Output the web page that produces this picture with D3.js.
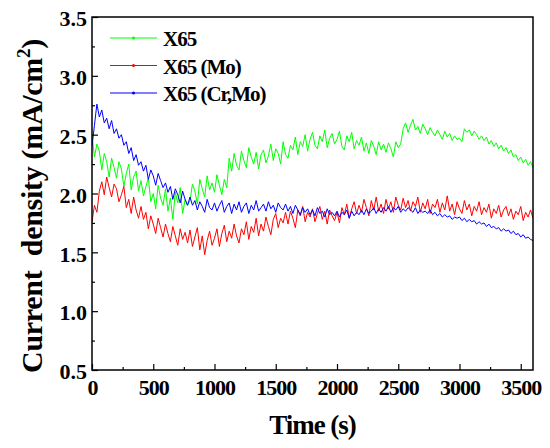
<!DOCTYPE html>
<html lang="en">
<head>
<meta charset="UTF-8">
<title>Current density</title>
<script src="https://cdn.jsdelivr.net/npm/d3@7"></script>
<style>
    body { margin: 0; background: #fff; }
    svg text { font-family: "Liberation Serif", "Times New Roman", serif; font-weight: bold; fill: #000; }
    .axis path { display: none; }
    .axis line { stroke: #000; stroke-width: 1.2; }
    .axis text { font-size: 22px; }
    .xaxis text { letter-spacing: -1px; }
</style>
</head>
<body>
<script>
// sampling times (s)
var times = [
    0, 20, 40, 60, 80, 100, 120, 140, 160, 180,
    200, 220, 240, 260, 280, 300, 320, 340, 360, 380,
    400, 420, 440, 460, 480, 500, 520, 540, 560, 580,
    600, 620, 640, 660, 680, 700, 720, 740, 760, 780,
    800, 820, 840, 860, 880, 900, 920, 940, 960, 980,
    1000, 1020, 1040, 1060, 1080, 1100, 1120, 1140, 1160, 1180,
    1200, 1220, 1240, 1260, 1280, 1300, 1320, 1340, 1360, 1380,
    1400, 1420, 1440, 1460, 1480, 1500, 1520, 1540, 1560, 1580,
    1600, 1620, 1640, 1660, 1680, 1700, 1720, 1740, 1760, 1780,
    1800, 1820, 1840, 1860, 1880, 1900, 1920, 1940, 1960, 1980,
    2000, 2020, 2040, 2060, 2080, 2100, 2120, 2140, 2160, 2180,
    2200, 2220, 2240, 2260, 2280, 2300, 2320, 2340, 2360, 2380,
    2400, 2420, 2440, 2460, 2480, 2500, 2520, 2540, 2560, 2580,
    2600, 2620, 2640, 2660, 2680, 2700, 2720, 2740, 2760, 2780,
    2800, 2820, 2840, 2860, 2880, 2900, 2920, 2940, 2960, 2980,
    3000, 3020, 3040, 3060, 3080, 3100, 3120, 3140, 3160, 3180,
    3200, 3220, 3240, 3260, 3280, 3300, 3320, 3340, 3360, 3380,
    3400, 3420, 3440, 3460, 3480, 3500, 3520, 3540, 3560, 3580,
    3600
]

// X65
var x65 = [
    2.50, 2.31, 2.42, 2.36, 2.20, 2.34, 2.27, 2.14, 2.30, 2.22,
    2.13, 2.27, 2.21, 2.06, 2.17, 2.25, 2.03, 2.14, 2.19, 2.02,
    2.11, 1.98, 2.06, 2.13, 1.93, 2.00, 1.87, 2.07, 1.96, 1.90,
    2.04, 1.85, 1.96, 1.78, 2.01, 1.92, 2.05, 1.83, 1.95, 1.90,
    1.94, 2.08, 2.02, 1.91, 2.12, 2.04, 1.97, 2.15, 2.03, 2.09,
    2.01, 2.16, 2.07, 1.99, 2.12, 2.05, 2.30, 2.19, 2.34, 2.24,
    2.20, 2.36, 2.28, 2.22, 2.39, 2.31, 2.25, 2.35, 2.21, 2.33,
    2.37, 2.26, 2.32, 2.42, 2.28, 2.38, 2.34, 2.25, 2.44, 2.33,
    2.30, 2.41, 2.37, 2.48, 2.33, 2.44, 2.40, 2.50, 2.36, 2.46,
    2.52, 2.41, 2.38, 2.49, 2.44, 2.54, 2.39, 2.47, 2.51, 2.42,
    2.46, 2.53, 2.40, 2.37, 2.49, 2.44, 2.52, 2.38, 2.45, 2.41,
    2.48, 2.36, 2.43, 2.34, 2.45, 2.40, 2.33, 2.44, 2.37, 2.42,
    2.35, 2.43, 2.38, 2.31, 2.44, 2.39, 2.42, 2.55, 2.60, 2.52,
    2.58, 2.63, 2.54, 2.57, 2.51, 2.59, 2.55, 2.50, 2.56, 2.52,
    2.49, 2.54, 2.50, 2.46, 2.53, 2.48, 2.51, 2.45, 2.49, 2.46,
    2.47, 2.44, 2.55, 2.52, 2.54, 2.49, 2.53, 2.50, 2.46, 2.49,
    2.45, 2.48, 2.42, 2.45, 2.40, 2.43, 2.38, 2.41, 2.36, 2.39,
    2.34, 2.37, 2.31, 2.33, 2.28, 2.31, 2.26, 2.29, 2.24, 2.27,
    2.22
]

// X65 (Mo)
var x65Mo = [
    1.76, 1.90, 1.84, 2.02, 2.10, 1.99, 2.14, 2.05, 1.97, 2.08,
    2.04, 1.93, 1.99, 2.06, 1.88, 1.95, 1.83, 1.97, 1.86, 1.79,
    1.89, 1.78, 1.84, 1.70, 1.81, 1.74, 1.66, 1.79, 1.71, 1.63,
    1.74, 1.66, 1.59, 1.72, 1.64, 1.56, 1.70, 1.61, 1.67, 1.58,
    1.69, 1.55, 1.63, 1.71, 1.52, 1.64, 1.48, 1.60, 1.68, 1.56,
    1.62, 1.70, 1.55, 1.66, 1.73, 1.59, 1.68, 1.62, 1.74, 1.64,
    1.58, 1.70, 1.65, 1.76, 1.61, 1.72, 1.67, 1.79, 1.64, 1.74,
    1.68, 1.80, 1.72, 1.65, 1.78, 1.83, 1.71, 1.79, 1.75, 1.84,
    1.74, 1.85, 1.79, 1.71, 1.86, 1.81, 1.89, 1.76, 1.84, 1.80,
    1.87, 1.76, 1.83, 1.89, 1.78, 1.85, 1.74, 1.86, 1.81, 1.77,
    1.84, 1.75, 1.88, 1.82, 1.91, 1.79, 1.87, 1.93, 1.83, 1.90,
    1.84, 1.95, 1.88, 1.81, 1.94, 1.86, 1.97, 1.85, 1.91, 1.83,
    1.95, 1.87, 1.93, 1.84, 1.97, 1.90, 1.86, 1.96, 1.88, 1.94,
    1.85, 1.93, 1.89, 1.97, 1.84, 1.92, 1.87, 1.95, 1.83, 1.91,
    1.88, 1.95, 1.84, 1.92, 1.86, 1.98, 1.85, 1.91, 1.82, 1.93,
    1.87, 1.83, 1.94, 1.86, 1.91, 1.81, 1.89, 1.85, 1.93, 1.82,
    1.88, 1.84, 1.91, 1.79, 1.87, 1.83, 1.90, 1.80, 1.86, 1.89,
    1.81, 1.87, 1.78, 1.85, 1.82, 1.89, 1.77, 1.84, 1.80, 1.86,
    1.79
]

// X65 (Cr,Mo)
var x65CrMo = [
    2.40, 2.58, 2.76, 2.65, 2.71, 2.60, 2.64, 2.55, 2.62, 2.51,
    2.55, 2.47, 2.50, 2.41, 2.44, 2.34, 2.39, 2.28, 2.33, 2.24,
    2.27, 2.19, 2.24, 2.12, 2.20, 2.15, 2.07, 2.17, 2.11, 2.05,
    2.09, 2.01, 2.06, 1.95, 2.04, 1.99, 1.92, 2.02, 1.95, 1.90,
    1.97, 1.90, 1.94, 1.86, 1.93, 1.89, 1.84, 1.95, 1.88, 1.86,
    1.92, 1.85, 1.90, 1.94, 1.84, 1.89, 1.92, 1.83, 1.91, 1.86,
    1.93, 1.84, 1.89, 1.92, 1.83, 1.90, 1.86, 1.94, 1.85, 1.88,
    1.91, 1.85, 1.93, 1.87, 1.90, 1.84, 1.92, 1.88, 1.86, 1.91,
    1.85, 1.89, 1.83, 1.90, 1.86, 1.82, 1.88, 1.84, 1.87, 1.82,
    1.86, 1.81, 1.88, 1.83, 1.85, 1.80, 1.87, 1.82, 1.84, 1.81,
    1.85, 1.80, 1.84, 1.82, 1.86, 1.79, 1.85, 1.81, 1.84, 1.82,
    1.86, 1.82, 1.87, 1.83, 1.85, 1.88, 1.83, 1.87, 1.84, 1.88,
    1.85, 1.89, 1.84, 1.88, 1.86, 1.89, 1.84, 1.87, 1.85, 1.88,
    1.86, 1.84, 1.88, 1.83, 1.86, 1.84, 1.85, 1.83, 1.86, 1.82,
    1.84, 1.81, 1.83, 1.80, 1.82, 1.80, 1.81, 1.78, 1.80, 1.79,
    1.80, 1.77, 1.79, 1.76, 1.78, 1.76, 1.77, 1.74, 1.76, 1.74,
    1.75, 1.72, 1.74, 1.71, 1.72, 1.70, 1.71, 1.68, 1.70, 1.68,
    1.69, 1.66, 1.68, 1.65, 1.66, 1.63, 1.65, 1.62, 1.63, 1.61,
    1.60
]

var seriesNames = ["X65", "X65 (Mo)", "X65 (Cr,Mo)"]
var seriesColors = ["#00ff00", "#ff0000", "#0000ff"]
var seriesValues = [x65, x65Mo, x65CrMo]

// axis ticks
var xTicks = [0, 500, 1000, 1500, 2000, 2500, 3000, 3500]
var xMinor = [250, 750, 1250, 1750, 2250, 2750, 3250]
var yTicks = [0.5, 1.0, 1.5, 2.0, 2.5, 3.0, 3.5]
var yMinor = [0.75, 1.25, 1.75, 2.25, 2.75, 3.25]

var width = 550,
    height = 448
var plotL = 92, plotR = 533, plotT = 17, plotB = 370

var svg = d3.select("body")
    .append("svg")
    .attr("width", width)
    .attr("height", height)

var x = d3.scaleLinear().domain([0, 3600]).range([plotL, plotR])
var y = d3.scaleLinear().domain([0.5, 3.5]).range([plotB, plotT])

svg.append("clipPath").attr("id", "plot")
    .append("rect")
    .attr("x", plotL).attr("y", plotT)
    .attr("width", plotR - plotL).attr("height", plotB - plotT)

// curves
var line = d3.line()
    .x(function(d) { return x(d[0]) })
    .y(function(d) { return y(d[1]) })

seriesValues.forEach(function(vals, k) {
    var pts = times.map(function(t, i) { return [t, vals[i]] })
    svg.append("path")
        .datum(pts)
        .attr("clip-path", "url(#plot)")
        .attr("fill", "none")
        .attr("stroke", seriesColors[k])
        .attr("stroke-width", 1)
        .attr("stroke-linejoin", "round")
        .attr("d", line)
})

// axes (ticks point inward)
var xAxis = d3.axisBottom(x).tickValues(xTicks).tickSize(-6).tickPadding(9)
    .tickFormat(d3.format("d"))
svg.append("g")
    .attr("class", "axis xaxis")
    .attr("transform", "translate(0," + plotB + ")")
    .call(xAxis)

svg.append("g")
    .attr("class", "axis")
    .attr("transform", "translate(0," + plotB + ")")
    .call(d3.axisBottom(x).tickValues(xMinor).tickSize(-3).tickFormat(""))

var yAxis = d3.axisLeft(y).tickValues(yTicks).tickSize(-6).tickPadding(5)
    .tickFormat(d3.format(".1f"))
svg.append("g")
    .attr("class", "axis")
    .attr("transform", "translate(" + plotL + ",0)")
    .call(yAxis)
    .selectAll("text").attr("dy", "0.4em")

svg.append("g")
    .attr("class", "axis")
    .attr("transform", "translate(" + plotL + ",0)")
    .call(d3.axisLeft(y).tickValues(yMinor).tickSize(-3).tickFormat(""))

// frame
svg.append("rect")
    .attr("x", plotL).attr("y", plotT)
    .attr("width", plotR - plotL).attr("height", plotB - plotT)
    .attr("fill", "none")
    .attr("stroke", "#000")
    .attr("stroke-width", 1.5)

// axis titles
svg.append("text")
    .attr("x", (plotL + plotR) / 2)
    .attr("y", 434)
    .attr("text-anchor", "middle")
    .style("font-size", "27px")
    .style("letter-spacing", "-1px")
    .text("Time (s)")

var yTitle = svg.append("text")
    .attr("transform", "translate(42,206) rotate(-90)")
    .attr("text-anchor", "middle")
    .style("font-size", "30px")
    .style("letter-spacing", "-0.3px")
yTitle.append("tspan").text("Current\u00a0 density (mA/cm")
yTitle.append("tspan").attr("dy", -12).style("font-size", "19px").text("2")
yTitle.append("tspan").attr("dy", 12).text(")")

// legend
var legend = svg.append("g").attr("transform", "translate(110,38)")
seriesNames.forEach(function(name, k) {
    var g = legend.append("g").attr("transform", "translate(0," + k * 27.5 + ")")
    g.append("line")
        .attr("x1", 0).attr("x2", 47)
        .attr("stroke", seriesColors[k])
        .attr("stroke-width", 1)
    g.append("circle")
        .attr("cx", 23.5).attr("r", 1.5)
        .attr("fill", seriesColors[k])
    g.append("text")
        .attr("x", 53).attr("y", 8)
        .style("font-size", "21px")
        .style("letter-spacing", "-1px")
        .text(name)
})
</script>
</body>
</html>
